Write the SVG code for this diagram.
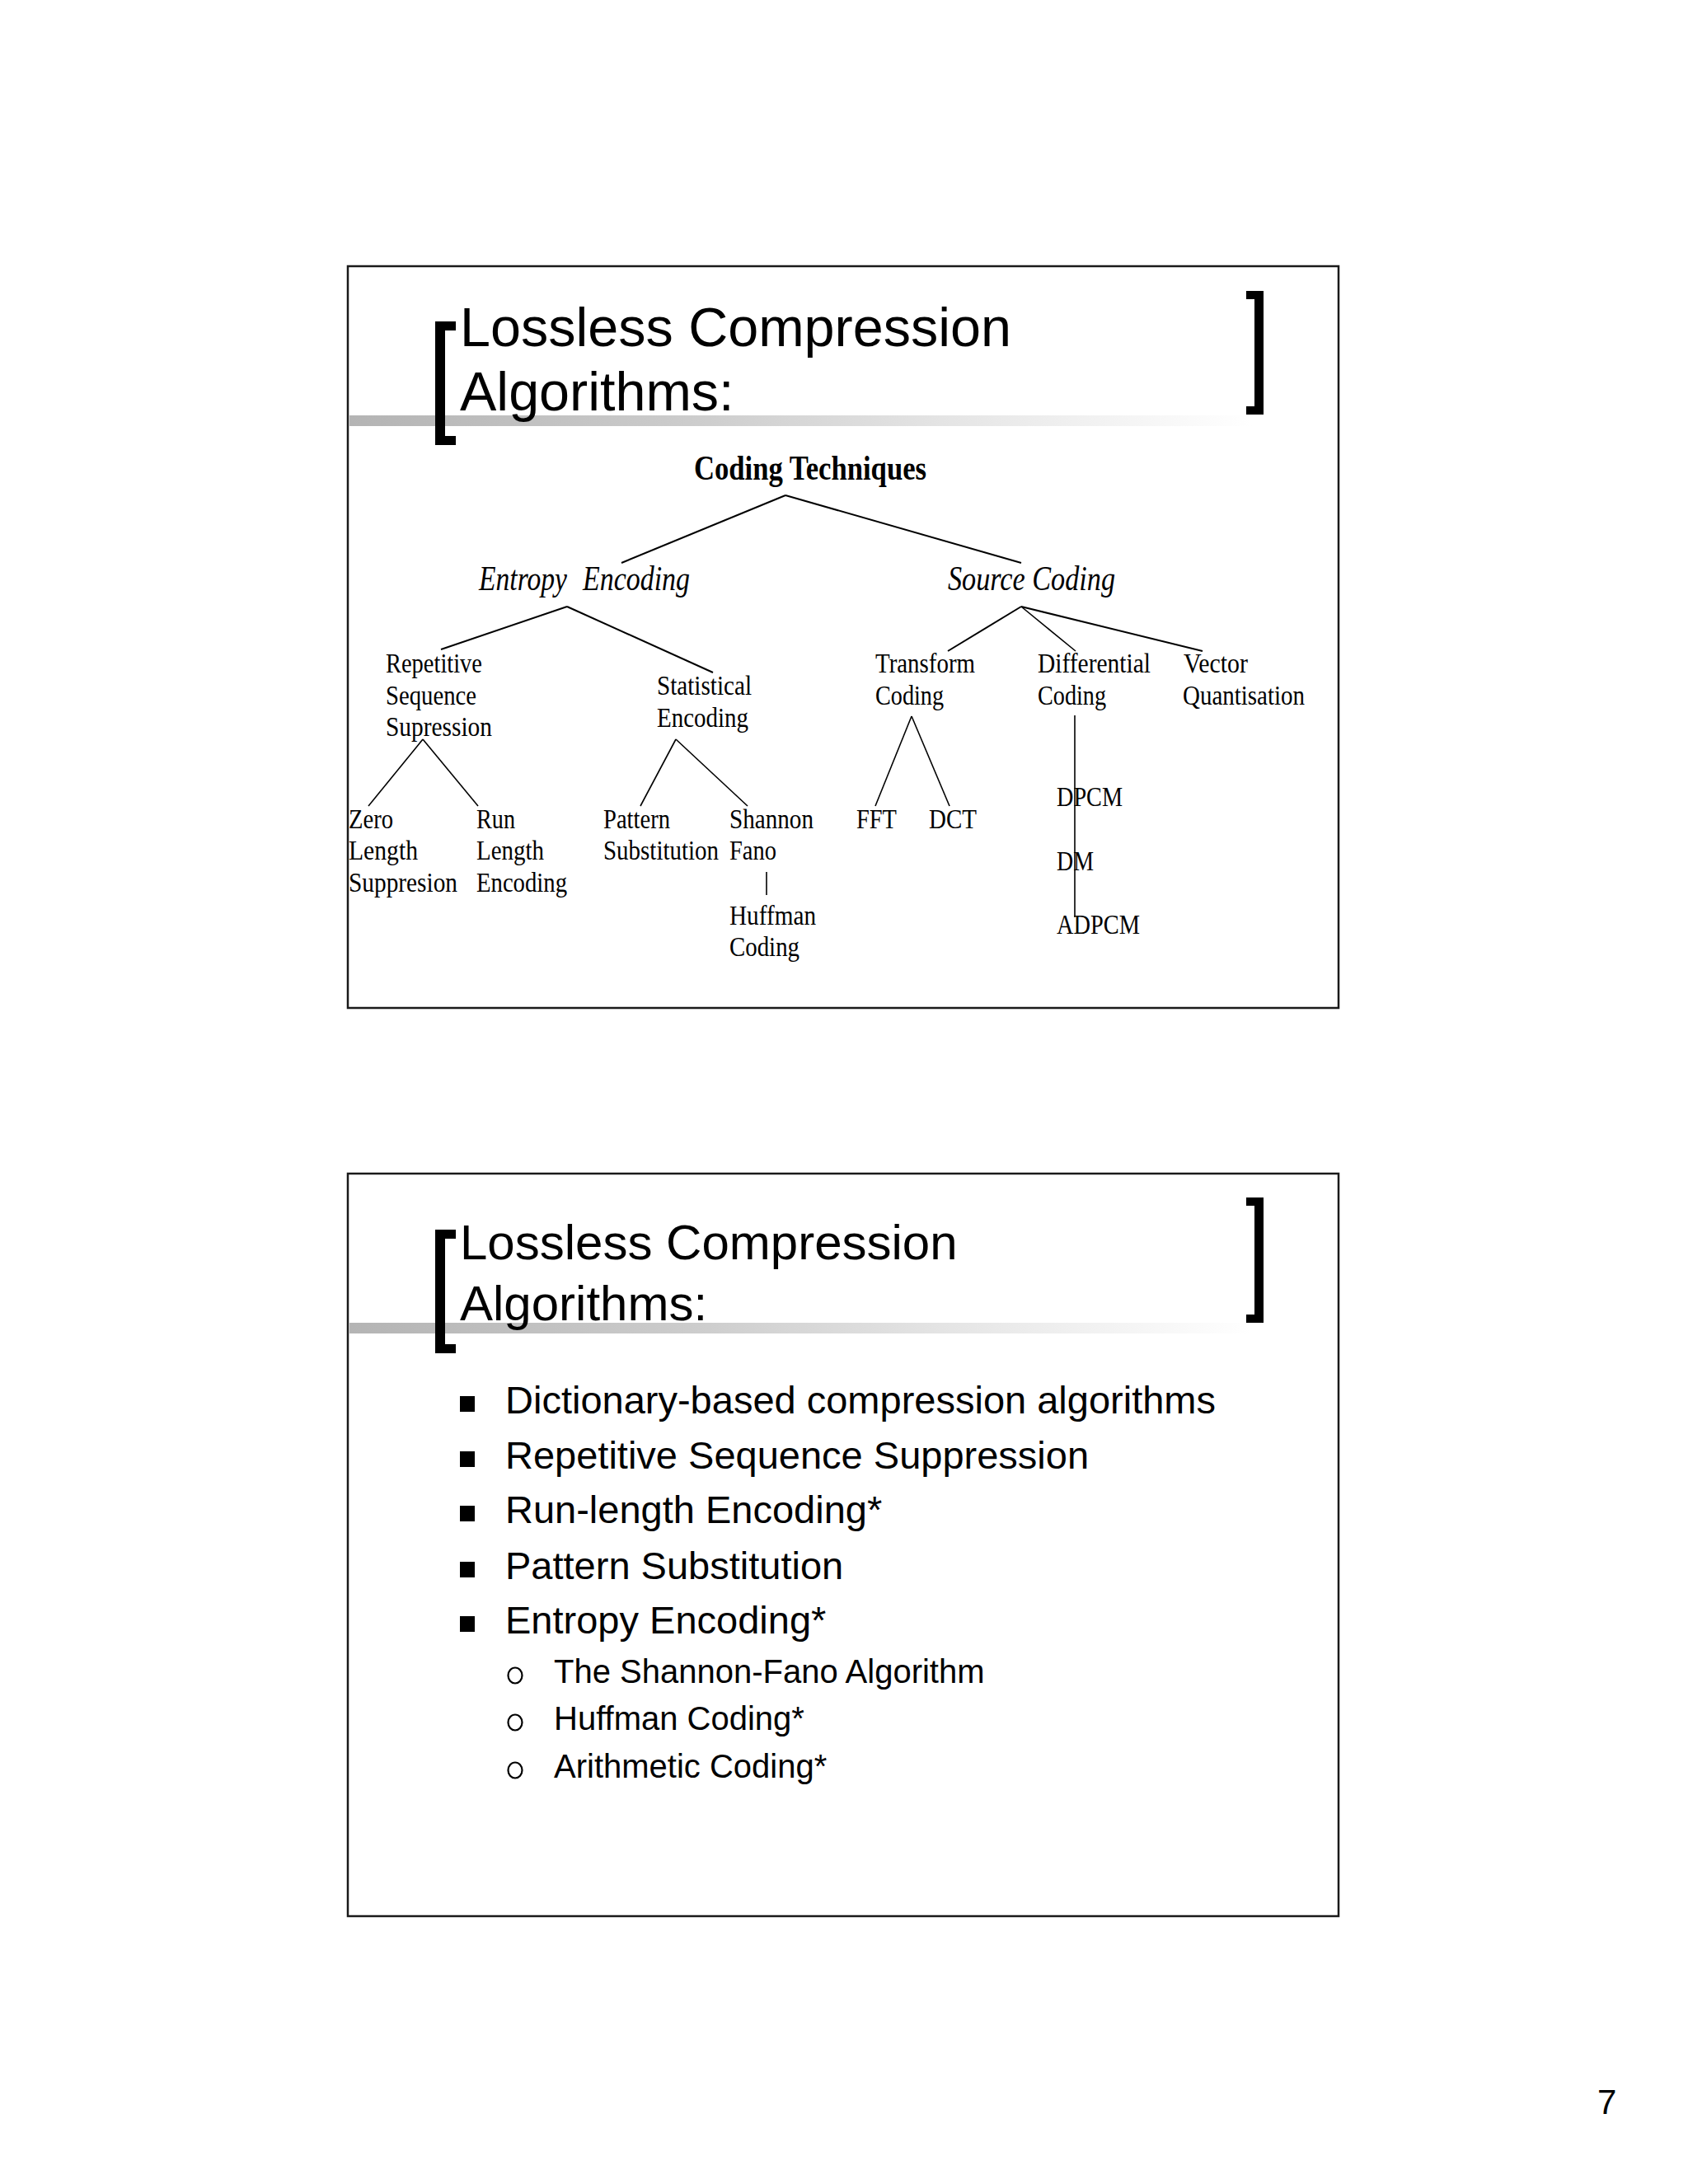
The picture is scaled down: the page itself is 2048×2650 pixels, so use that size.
<svg xmlns="http://www.w3.org/2000/svg" width="2048" height="2650" viewBox="0 0 2048 2650">
<style>
.frame{fill:none;stroke:#1a1a1a;stroke-width:2.5}
.title{font-family:"Liberation Sans",Arial,sans-serif;fill:#000}
.br{fill:#000}
.t{font-family:"Liberation Serif","Times New Roman",serif;font-size:33px;fill:#000}
.h{font-family:"Liberation Serif","Times New Roman",serif;font-size:43px;font-weight:bold;fill:#000}
.i{font-family:"Liberation Serif","Times New Roman",serif;font-size:42px;font-style:italic;fill:#000}
.b1{font-family:"Liberation Sans",Arial,sans-serif;font-size:47px;fill:#000}
.b2{font-family:"Liberation Sans",Arial,sans-serif;font-size:40px;fill:#000}
.ln{stroke:#000;stroke-width:2;fill:none}
.ln2{stroke:#000;stroke-width:1.6;fill:none}
.ring{fill:none;stroke:#000;stroke-width:2.2}
</style>
<defs>
<linearGradient id="bar" x1="0" y1="0" x2="1" y2="0">
<stop offset="0" stop-color="#b4b4b4"/>
<stop offset="0.35" stop-color="#cacaca"/>
<stop offset="0.75" stop-color="#ececec"/>
<stop offset="1" stop-color="#ffffff"/>
</linearGradient>
</defs>
<rect width="2048" height="2650" fill="#fff"/>

<!-- Slide 1 -->
<g id="slide1">
<rect class="frame" x="422" y="323" width="1202" height="900"/>
<rect x="424" y="504" width="1095" height="13" fill="url(#bar)"/>
<path class="br" d="M528 390h25v11h-13v128h13v11h-25z"/>
<path class="br" d="M1512 353h21v150h-21v-10h10v-130h-10z"/>
<text class="title" x="558" y="420" font-size="66.5">Lossless Compression</text>
<text class="title" x="558" y="498" font-size="66.5">Algorithms:</text>
</g>

<g id="connectors">
<line class="ln" x1="953" y1="601" x2="754" y2="683"/>
<line class="ln" x1="953" y1="601" x2="1239" y2="683"/>
<line class="ln" x1="688" y1="736" x2="535" y2="788"/>
<line class="ln" x1="688" y1="736" x2="865" y2="816"/>
<line class="ln" x1="1239" y1="736" x2="1150" y2="790"/>
<line class="ln2" x1="1239" y1="736" x2="1305" y2="790"/>
<line class="ln" x1="1239" y1="736" x2="1459" y2="790"/>
<line class="ln2" x1="513" y1="897" x2="447" y2="978"/>
<line class="ln2" x1="513" y1="897" x2="580" y2="978"/>
<line class="ln2" x1="820" y1="897" x2="777" y2="978"/>
<line class="ln2" x1="820" y1="897" x2="907" y2="978"/>
<line class="ln2" x1="1106" y1="869" x2="1062" y2="978"/>
<line class="ln2" x1="1106" y1="869" x2="1152" y2="978"/>
<line class="ln2" x1="930" y1="1058" x2="930" y2="1086"/>
<line class="ln2" x1="1304" y1="868" x2="1304" y2="1113"/>
</g>

<g id="n-coding-techniques"><text class="h" x="842" y="582" textLength="282" lengthAdjust="spacingAndGlyphs">Coding Techniques</text></g>
<g id="n-entropy-encoding"><text class="i" y="716"><tspan x="581" textLength="107" lengthAdjust="spacingAndGlyphs">Entropy</tspan><tspan x="707" textLength="130" lengthAdjust="spacingAndGlyphs">Encoding</tspan></text></g>
<g id="n-source-coding"><text class="i" x="1150" y="716" textLength="203" lengthAdjust="spacingAndGlyphs">Source Coding</text></g>

<g id="n-repetitive">
<text class="t" x="468" y="816" textLength="117" lengthAdjust="spacingAndGlyphs">Repetitive</text>
<text class="t" x="468" y="855" textLength="110" lengthAdjust="spacingAndGlyphs">Sequence</text>
<text class="t" x="468" y="893" textLength="129" lengthAdjust="spacingAndGlyphs">Supression</text>
</g>
<g id="n-statistical">
<text class="t" x="797" y="843" textLength="115" lengthAdjust="spacingAndGlyphs">Statistical</text>
<text class="t" x="797" y="882" textLength="111" lengthAdjust="spacingAndGlyphs">Encoding</text>
</g>
<g id="n-transform">
<text class="t" x="1062" y="816" textLength="121" lengthAdjust="spacingAndGlyphs">Transform</text>
<text class="t" x="1062" y="855" textLength="83" lengthAdjust="spacingAndGlyphs">Coding</text>
</g>
<g id="n-differential">
<text class="t" x="1259" y="816" textLength="137" lengthAdjust="spacingAndGlyphs">Differential</text>
<text class="t" x="1259" y="855" textLength="83" lengthAdjust="spacingAndGlyphs">Coding</text>
</g>
<g id="n-vector">
<text class="t" x="1436" y="816" textLength="78" lengthAdjust="spacingAndGlyphs">Vector</text>
<text class="t" x="1435" y="855" textLength="148" lengthAdjust="spacingAndGlyphs">Quantisation</text>
</g>
<g id="n-zero">
<text class="t" x="423" y="1005" textLength="54" lengthAdjust="spacingAndGlyphs">Zero</text>
<text class="t" x="423" y="1043" textLength="84" lengthAdjust="spacingAndGlyphs">Length</text>
<text class="t" x="423" y="1082" textLength="132" lengthAdjust="spacingAndGlyphs">Suppresion</text>
</g>
<g id="n-run">
<text class="t" x="578" y="1005" textLength="47" lengthAdjust="spacingAndGlyphs">Run</text>
<text class="t" x="578" y="1043" textLength="82" lengthAdjust="spacingAndGlyphs">Length</text>
<text class="t" x="578" y="1082" textLength="110" lengthAdjust="spacingAndGlyphs">Encoding</text>
</g>
<g id="n-pattern">
<text class="t" x="732" y="1005" textLength="81" lengthAdjust="spacingAndGlyphs">Pattern</text>
<text class="t" x="732" y="1043" textLength="140" lengthAdjust="spacingAndGlyphs">Substitution</text>
</g>
<g id="n-shannon">
<text class="t" x="885" y="1005" textLength="102" lengthAdjust="spacingAndGlyphs">Shannon</text>
<text class="t" x="885" y="1043" textLength="57" lengthAdjust="spacingAndGlyphs">Fano</text>
</g>
<g id="n-huffman">
<text class="t" x="885" y="1122" textLength="105" lengthAdjust="spacingAndGlyphs">Huffman</text>
<text class="t" x="885" y="1160" textLength="85" lengthAdjust="spacingAndGlyphs">Coding</text>
</g>
<g id="n-fft"><text class="t" x="1039" y="1005" textLength="49" lengthAdjust="spacingAndGlyphs">FFT</text></g>
<g id="n-dct"><text class="t" x="1127" y="1005" textLength="58" lengthAdjust="spacingAndGlyphs">DCT</text></g>
<g id="n-dpcm"><text class="t" x="1282" y="978" textLength="80" lengthAdjust="spacingAndGlyphs">DPCM</text></g>
<g id="n-dm"><text class="t" x="1282" y="1056" textLength="45" lengthAdjust="spacingAndGlyphs">DM</text></g>
<g id="n-adpcm"><text class="t" x="1282" y="1133" textLength="101" lengthAdjust="spacingAndGlyphs">ADPCM</text></g>

<!-- Slide 2 -->
<g id="slide2">
<rect class="frame" x="422" y="1424" width="1202" height="901"/>
<rect x="424" y="1605" width="1095" height="13" fill="url(#bar)"/>
<path class="br" d="M528 1492h25v11h-13v128h13v11h-25z"/>
<path class="br" d="M1512 1453h21v152h-21v-10h10v-132h-10z"/>
<text class="title" x="558" y="1528" font-size="60">Lossless Compression</text>
<text class="title" x="558" y="1602" font-size="60">Algorithms:</text>
<g id="bullets">
<rect x="558" y="1694" width="18" height="19"/>
<text class="b1" x="613" y="1715">Dictionary-based compression algorithms</text>
<rect x="558" y="1761" width="18" height="19"/>
<text class="b1" x="613" y="1782">Repetitive Sequence Suppression</text>
<rect x="558" y="1827" width="18" height="19"/>
<text class="b1" x="613" y="1848">Run-length Encoding*</text>
<rect x="558" y="1895" width="18" height="19"/>
<text class="b1" x="613" y="1916">Pattern Substitution</text>
<rect x="558" y="1961" width="18" height="19"/>
<text class="b1" x="613" y="1982">Entropy Encoding*</text>
<ellipse class="ring" cx="625" cy="2033" rx="8.5" ry="9.5"/>
<text class="b2" x="672" y="2042">The Shannon-Fano Algorithm</text>
<ellipse class="ring" cx="625" cy="2090" rx="8.5" ry="9.5"/>
<text class="b2" x="672" y="2099">Huffman Coding*</text>
<ellipse class="ring" cx="625" cy="2148" rx="8.5" ry="9.5"/>
<text class="b2" x="672" y="2157">Arithmetic Coding*</text>
</g>
</g>

<text class="title" x="1938" y="2565" font-size="42">7</text>
</svg>
